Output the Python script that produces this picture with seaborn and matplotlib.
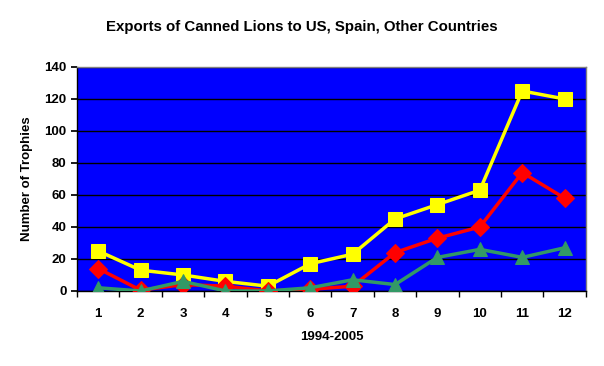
import matplotlib
matplotlib.use("Agg")
import matplotlib.pyplot as plt
import seaborn as sns
import pandas as pd
import numpy as np

periods = [1, 2, 3, 4, 5, 6, 7, 8, 9, 10, 11, 12]
other = [25, 13, 10, 6, 3, 17, 23, 45, 54, 63, 125, 120]
spain = [14, 0.5, 4, 3, 0, 1, 3, 24, 33, 40, 74, 58]
us = [2, 0, 6, 0, 0, 2, 7, 4, 21, 26, 21, 27]
yticks = [0, 20, 40, 60, 80, 100, 120, 140]

sns.set_theme(style="white")
plt.rcParams['font.family'] = ['Liberation Sans', 'DejaVu Sans']
plt.rcParams.update({"text.color": "black", "axes.labelcolor": "black",
                     "xtick.color": "black", "ytick.color": "black"})

fig = plt.figure(figsize=(6.04, 3.66), dpi=100)
ax = fig.add_axes([0.1275, 0.205, 0.8425, 0.612])
ax.set_facecolor("#0000FF")

df = pd.DataFrame({"x": periods, "other": other, "spain": spain, "us": us})
series = [("other", "#FFFF00", "s", 10.5), ("spain", "#FF0000", "D", 9), ("us", "#339966", "^", 10.5)]
for col, c, m, ms in series:
    sns.lineplot(data=df, x="x", y=col, ax=ax, color=c, marker=m, markersize=ms,
                 markeredgecolor=c, linewidth=2.5, zorder=3)

ax.set_xlim(0.5, 12.5)
ax.set_ylim(0, 140)
ax.set_yticks(yticks)
ax.set_xticks(periods)
ax.set_xticks(np.arange(0.5, 13, 1), minor=True)
ax.yaxis.grid(True, color="black", linewidth=1)
ax.set_axisbelow(True)
ax.tick_params(axis="x", which="major", length=0, pad=12, labelsize=9.5, labelcolor="black")
ax.tick_params(axis="x", which="minor", length=4, color="black", direction="out", bottom=True)
ax.tick_params(axis="y", length=4, color="black", direction="out", left=True, labelsize=9.5,
               labelcolor="black")
for lbl in ax.get_xticklabels() + ax.get_yticklabels():
    lbl.set_fontweight("bold")
for s in ["left", "bottom"]:
    ax.spines[s].set_color("black")
    ax.spines[s].set_linewidth(1)
for s in ["top", "right"]:
    ax.spines[s].set_color("#808080")
    ax.spines[s].set_linewidth(1)

ax.set_xlabel("1994-2005", fontsize=9.5, fontweight="bold", labelpad=8, color="black")
ax.set_ylabel("Number of Trophies", fontsize=9.5, fontweight="bold", labelpad=8, color="black")
fig.suptitle("Exports of Canned Lions to US, Spain, Other Countries", x=0.5, y=0.945,
             fontsize=10.8, fontweight="bold", color="black")

fig.savefig("out.png", dpi=100, facecolor="white")
